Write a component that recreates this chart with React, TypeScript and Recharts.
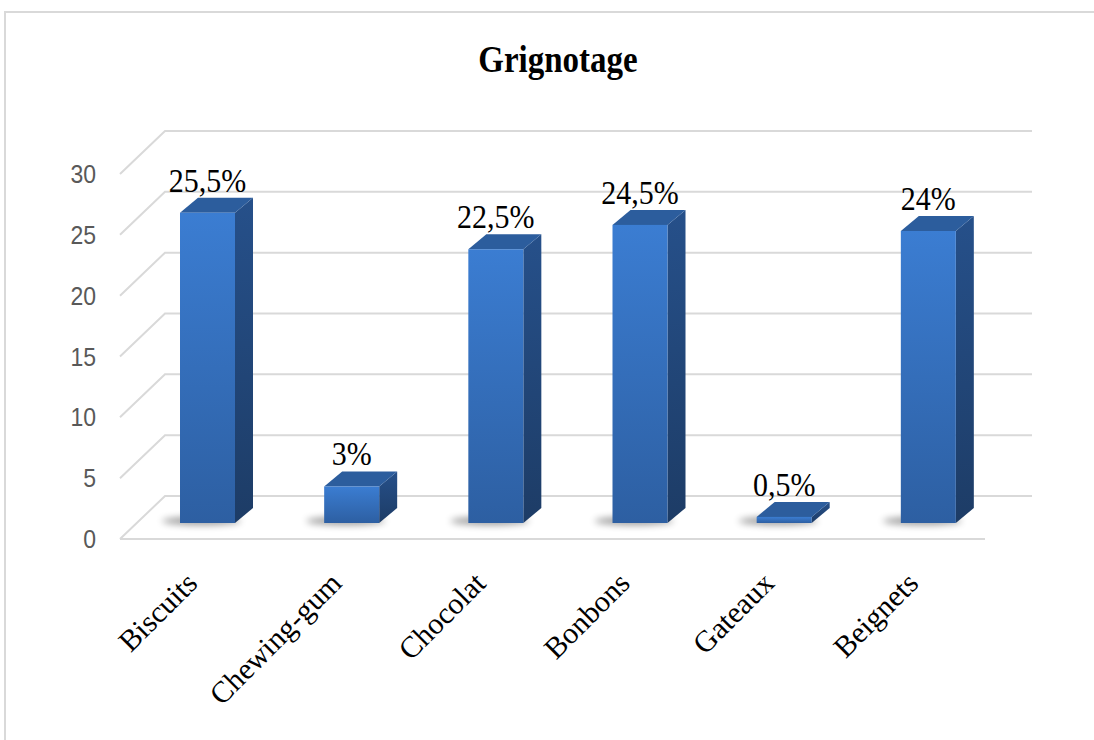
import React from 'react'
import { BarChart, Bar, XAxis, YAxis, CartesianGrid } from 'recharts'

const categories = ['Biscuits', 'Chewing-gum', 'Chocolat', 'Bonbons', 'Gateaux', 'Beignets']
const values = [25.5, 3, 22.5, 24.5, 0.5, 24]
const yTicks = [0, 5, 10, 15, 20, 25, 30]

const data = categories.map((name, i) => ({ name, value: values[i] }))

const SERIF = "'Liberation Serif', 'Times New Roman', serif"
const SANS = "'Liberation Sans', Arial, sans-serif"

// fake 3D: bars sit a bit behind the front plane, walls go further back
const OX = 15
const OY = -16
const DX = 18
const DY = -15
const WALL_DX = 45
const WALL_DY = -43

const fmt = (v: number) => String(v).replace('.', ',') + '%'

// the source picture is a little stretched vertically
const stretch = (x: number, y: number, sy: number) =>
  `translate(${x},${y}) scale(1,${sy}) translate(${-x},${-y})`

function Bar3D(props: any) {
  const { x, y, width, height, value } = props
  if (height == null || width == null) return null
  const fx = x + OX
  const fy = y + OY
  const w = width
  const h = Math.max(height, 0)
  const top = `${fx},${fy} ${fx + DX},${fy + DY} ${fx + w + DX},${fy + DY} ${fx + w},${fy}`
  const side = `${fx + w},${fy} ${fx + w + DX},${fy + DY} ${fx + w + DX},${fy + h + DY} ${fx + w},${fy + h}`
  const v = Array.isArray(value) ? value[1] : value
  const lx = fx + w / 2
  const ly = fy - 21
  return (
    <g>
      <ellipse cx={fx + w / 2 - 6} cy={fy + h - 2} rx={w / 2 + 12} ry={4} fill="#000" opacity={0.4} filter="url(#shadowBlur)" />
      <polygon points={side} fill="url(#sideGrad)" />
      <polygon points={top} fill="#2c5d9d" />
      <rect x={fx} y={fy} width={w} height={h} fill="url(#frontGrad)" />
      <text
        x={lx}
        y={ly}
        textAnchor="middle"
        transform={stretch(lx, ly, 1.15)}
        style={{ fontFamily: SERIF, fontSize: 30 }}
        fill="#000"
      >
        {fmt(v)}
      </text>
    </g>
  )
}

function gridLine(props: any) {
  const { x1, y1, x2 } = props
  const d = `M${x1},${y1} L${x1 + WALL_DX},${y1 + WALL_DY} L${x2 + WALL_DX + 2},${y1 + WALL_DY}`
  return <path key={props.key ?? `g-${y1}`} d={d} fill="none" stroke="#d9d9d9" strokeWidth={2} />
}

function XTick(props: any) {
  const { x, y, payload } = props
  const ax = x + 7
  const ay = y + 44
  return (
    <text
      x={ax}
      y={ay}
      textAnchor="end"
      transform={`rotate(-45, ${ax}, ${ay})`}
      style={{ fontFamily: SERIF, fontSize: 30 }}
      fill="#000"
    >
      {payload.value}
    </text>
  )
}

function YTick(props: any) {
  const { x, y, payload } = props
  return (
    <text
      x={x}
      y={y}
      dy="0.355em"
      textAnchor="end"
      transform={stretch(x, y, 1.12)}
      style={{ fontFamily: SANS, fontSize: 23 }}
      fill="#595959"
    >
      {payload.value}
    </text>
  )
}

export default function App() {
  return (
    <div style={{ position: 'absolute', left: 0, top: 0, width: 1094, height: 740, background: '#fff', overflow: 'hidden' }}>
      <div style={{ position: 'absolute', left: 4, top: 11, width: 1200, height: 800, border: '2px solid #d9d9d9' }} />
      <BarChart
        width={1094}
        height={740}
        data={data}
        margin={{ top: 174, right: 109, left: 0, bottom: 0 }}
        style={{ position: 'absolute', left: 0, top: 0 }}
      >
        <defs>
          <linearGradient id="frontGrad" x1="0" y1="0" x2="0" y2="1">
            <stop offset="0%" stopColor="#3b7dd2" />
            <stop offset="100%" stopColor="#2d5fa2" />
          </linearGradient>
          <linearGradient id="sideGrad" x1="0" y1="0" x2="0" y2="1">
            <stop offset="0%" stopColor="#26508a" />
            <stop offset="100%" stopColor="#1d3c66" />
          </linearGradient>
          <filter id="shadowBlur" x="-50%" y="-300%" width="200%" height="700%">
            <feGaussianBlur stdDeviation="3.5" />
          </filter>
        </defs>
        <text
          x={558}
          y={72}
          textAnchor="middle"
          transform={stretch(558, 72, 1.15)}
          style={{ fontFamily: SERIF, fontWeight: 'bold', fontSize: 33 }}
          fill="#000"
        >
          Grignotage
        </text>
        <CartesianGrid vertical={false} horizontal={gridLine} />
        <XAxis
          dataKey="name"
          height={201}
          interval={0}
          tickLine={false}
          tickSize={0}
          axisLine={{ stroke: '#d9d9d9', strokeWidth: 2 }}
          tick={<XTick />}
        />
        <YAxis
          width={120}
          domain={[0, 30]}
          ticks={yTicks}
          interval={0}
          axisLine={false}
          tickLine={false}
          tickSize={0}
          tickMargin={24}
          tick={<YTick />}
        />
        <Bar dataKey="value" barSize={55} shape={<Bar3D />} isAnimationActive={false} />
      </BarChart>
    </div>
  )
}
